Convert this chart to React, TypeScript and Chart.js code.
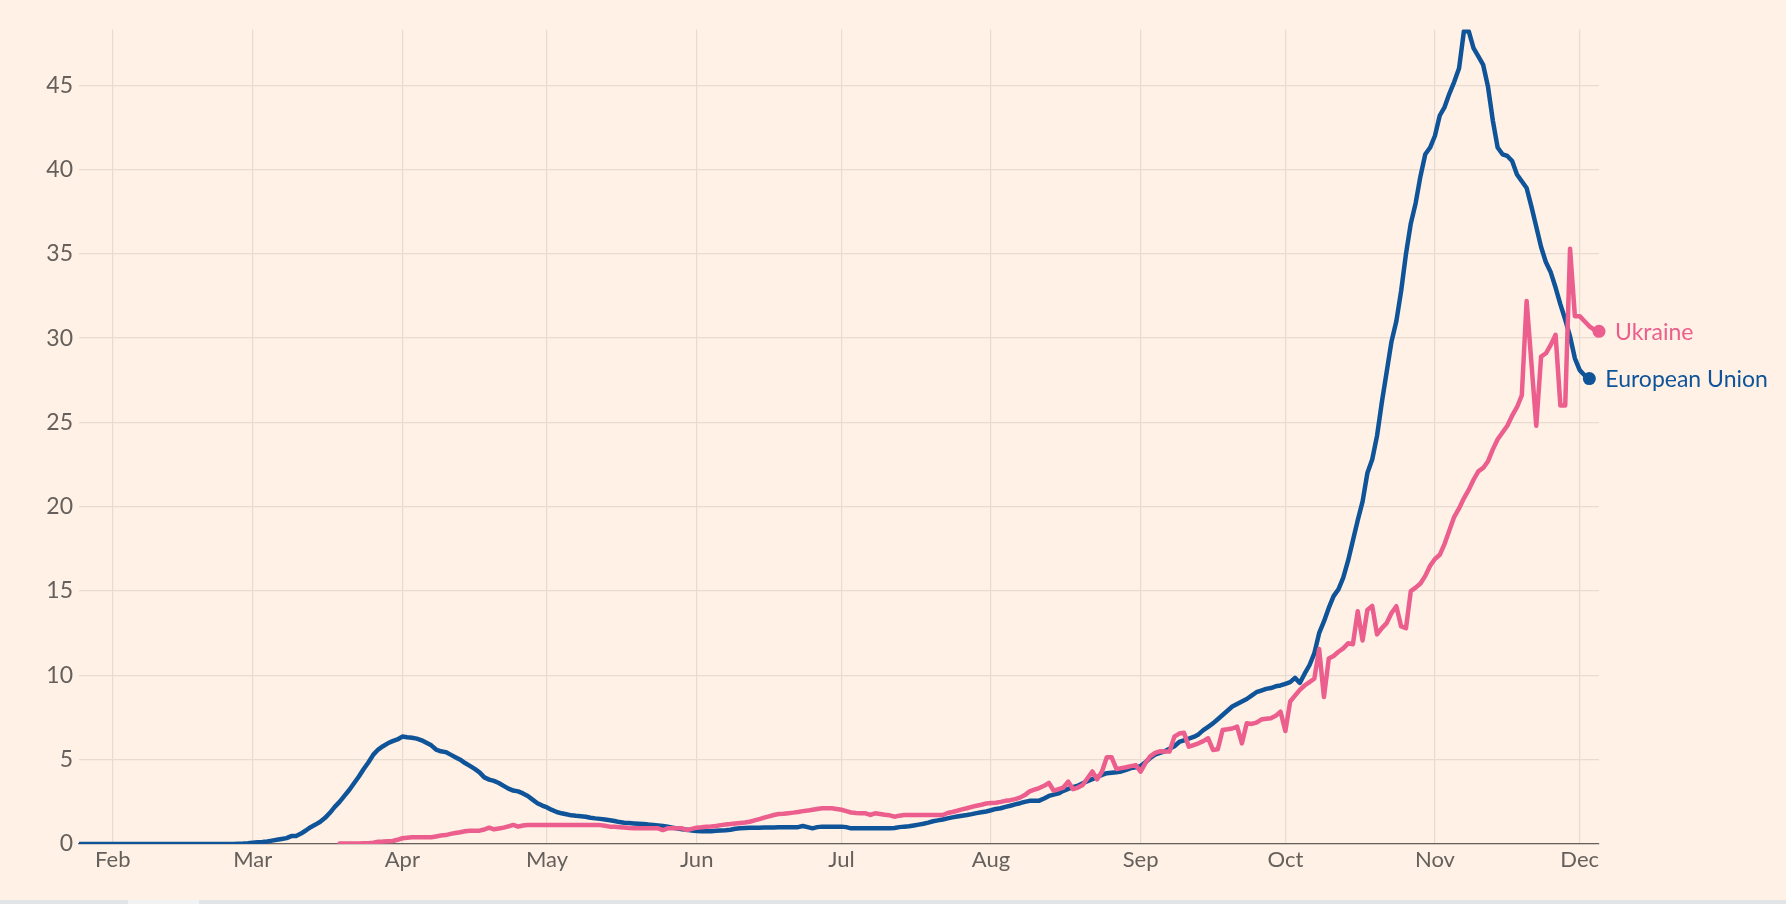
import React, { useEffect, useRef } from "react";
import { Chart, registerables } from "chart.js";

Chart.register(...registerables);

// x values are day numbers counted from 1 February 2020 (Feb 1 = 0)
const monthLabels = ["Feb", "Mar", "Apr", "May", "Jun", "Jul", "Aug", "Sep", "Oct", "Nov", "Dec"];
const monthStartDays = [0, 29, 60, 90, 121, 151, 182, 213, 243, 274, 304];
const yTickValues = [0, 5, 10, 15, 20, 25, 30, 35, 40, 45];

const euLabel = "European Union";
const euStartDay = -7;
const euValues = [
  // Jan 25-31
  0, 0, 0, 0, 0, 0, 0,
  // Feb
  0, 0, 0, 0, 0, 0, 0, 0, 0, 0, 0, 0, 0, 0, 0, 0, 0, 0, 0, 0, 0, 0, 0, 0, 0, 0, 0.02, 0.03, 0.05,
  // Mar
  0.08, 0.1, 0.12, 0.15, 0.2, 0.25, 0.3, 0.35, 0.47, 0.48, 0.62, 0.8, 1.0, 1.15, 1.32, 1.55, 1.85, 2.2, 2.5, 2.85,
  3.2, 3.6, 4.0, 4.45, 4.85, 5.3, 5.6, 5.8, 5.97, 6.1, 6.2,
  // Apr
  6.37, 6.33, 6.3, 6.25, 6.15, 6.0, 5.85, 5.6, 5.5, 5.45, 5.3, 5.15, 5.0, 4.8, 4.63, 4.45, 4.25, 3.95, 3.82, 3.74,
  3.62, 3.45, 3.28, 3.17, 3.12, 3.0, 2.85, 2.63, 2.42, 2.28,
  // May
  2.17, 2.02, 1.9, 1.82, 1.76, 1.7, 1.67, 1.65, 1.62, 1.56, 1.52, 1.49, 1.45, 1.41, 1.36, 1.3, 1.26, 1.24, 1.22, 1.2,
  1.18, 1.15, 1.13, 1.1, 1.07, 1.02, 0.97, 0.92, 0.88, 0.84, 0.8,
  // Jun
  0.77, 0.76, 0.75, 0.76, 0.78, 0.8, 0.82, 0.85, 0.9, 0.93, 0.95, 0.96, 0.97, 0.97, 0.98, 0.98, 0.98, 0.99, 0.99, 0.99,
  0.99, 1.0, 1.07, 1.0, 0.93, 1.0, 1.03, 1.03, 1.03, 1.03,
  // Jul
  1.03, 1.0, 0.93, 0.93, 0.93, 0.93, 0.93, 0.93, 0.93, 0.93, 0.93, 0.95, 1.0, 1.03, 1.05, 1.1, 1.15, 1.2, 1.27, 1.35,
  1.4, 1.45, 1.52, 1.58, 1.63, 1.68, 1.72, 1.77, 1.83, 1.88, 1.93,
  // Aug
  2.0, 2.08, 2.12, 2.2, 2.27, 2.35, 2.42, 2.5, 2.56, 2.57, 2.57, 2.7, 2.85, 2.93, 3.0, 3.15, 3.27, 3.37, 3.46, 3.6,
  3.73, 3.85, 3.97, 4.1, 4.2, 4.23, 4.26, 4.3, 4.4, 4.5, 4.55,
  // Sep
  4.62, 4.85, 5.1, 5.3, 5.4, 5.5, 5.65, 5.8, 6.05, 6.15, 6.25, 6.35, 6.5, 6.75, 6.95, 7.15, 7.4, 7.65, 7.9, 8.15,
  8.3, 8.45, 8.6, 8.8, 9.0, 9.1, 9.2, 9.25, 9.35, 9.4,
  // Oct
  9.5, 9.6, 9.85, 9.55, 10.1, 10.6, 11.3, 12.5, 13.2, 14.0, 14.7, 15.1, 15.8, 16.8, 18.0, 19.2, 20.3, 22.0, 22.8, 24.2,
  26.2, 28.0, 29.8, 31.0, 32.8, 35.0, 36.8, 38.0, 39.6, 40.9, 41.3,
  // Nov
  42.0, 43.2, 43.7, 44.5, 45.2, 46.0, 48.2, 48.2, 47.2, 46.7, 46.2, 44.9, 42.9, 41.3, 40.9, 40.8, 40.5, 39.7, 39.3, 38.9,
  37.8, 36.6, 35.4, 34.5, 33.9, 33.0, 32.0, 31.1, 30.1, 28.8,
  // Dec
  28.1, 27.8, 27.6,
];

const ukLabel = "Ukraine";
const ukStartDay = 47;
const ukValues = [
  // Mar 19-31
  0.03, 0.03, 0.03, 0.03, 0.03, 0.04, 0.04, 0.08, 0.14, 0.15, 0.17, 0.18, 0.25,
  // Apr
  0.34, 0.37, 0.4, 0.4, 0.4, 0.4, 0.4, 0.45, 0.5, 0.53, 0.6, 0.65, 0.7, 0.76, 0.79, 0.79, 0.79, 0.86, 0.97, 0.87,
  0.92, 0.97, 1.05, 1.13, 1.03, 1.1, 1.13, 1.13, 1.13, 1.13,
  // May
  1.13, 1.13, 1.13, 1.13, 1.13, 1.13, 1.13, 1.13, 1.13, 1.13, 1.13, 1.12, 1.08, 1.03, 1.02, 1.0, 0.98, 0.95, 0.93, 0.93,
  0.93, 0.93, 0.93, 0.93, 0.83, 0.93, 0.93, 0.93, 0.93, 0.83, 0.9,
  // Jun
  0.97, 0.99, 1.02, 1.04, 1.07, 1.12, 1.15, 1.18, 1.22, 1.25, 1.28, 1.32, 1.4, 1.48, 1.56, 1.64, 1.72, 1.78, 1.8, 1.83,
  1.86, 1.9, 1.95, 1.98, 2.03, 2.08, 2.12, 2.12, 2.12, 2.08,
  // Jul
  2.03, 1.95, 1.87, 1.84, 1.82, 1.82, 1.72, 1.82, 1.78, 1.73, 1.7, 1.62, 1.68, 1.72, 1.72, 1.72, 1.72, 1.72, 1.72, 1.72,
  1.72, 1.72, 1.84, 1.9, 1.97, 2.05, 2.12, 2.2, 2.27, 2.33, 2.4,
  // Aug
  2.43, 2.45, 2.5, 2.56, 2.6, 2.66, 2.75, 2.9, 3.12, 3.22, 3.32, 3.45, 3.62, 3.16, 3.25, 3.35, 3.7, 3.25, 3.35, 3.5,
  3.9, 4.3, 3.83, 4.3, 5.14, 5.14, 4.45, 4.5, 4.55, 4.62, 4.68,
  // Sep
  4.29, 4.8, 5.2, 5.4, 5.5, 5.48, 5.48, 6.37, 6.55, 6.6, 5.77, 5.87, 5.97, 6.1, 6.27, 5.58, 5.62, 6.76, 6.8, 6.85,
  6.96, 5.97, 7.16, 7.12, 7.2, 7.38, 7.43, 7.46, 7.6, 7.85,
  // Oct
  6.7, 8.45, 8.8, 9.14, 9.4, 9.6, 9.8, 11.56, 8.72, 11.0, 11.15, 11.4, 11.6, 11.9, 11.85, 13.8, 12.07, 13.88, 14.12, 12.43,
  12.8, 13.1, 13.7, 14.1, 12.9, 12.8, 15.0, 15.2, 15.45, 15.9, 16.5,
  // Nov
  16.9, 17.15, 17.8, 18.6, 19.4, 19.9, 20.5, 21.0, 21.6, 22.1, 22.3, 22.7, 23.4, 24.0, 24.4, 24.8, 25.4, 25.9, 26.6, 32.2,
  28.5, 24.8, 28.9, 29.1, 29.6, 30.2, 26.0, 26.0, 35.3, 31.3,
  // Dec
  31.3, 31.0, 30.7, 30.5, 30.4,
];

const BG = "#fff1e5";
const GRID = "#e8dcd1";
const TEXT = "#66605c";
const EU_COLOR = "#0f5499";
const UK_COLOR = "#eb5e8d";
const FONT = "Lato";

const toPoints = (start: number, vals: number[]) => vals.map((v, i) => ({ x: start + i, y: v }));

const endLabels = {
  id: "endLabels",
  afterDatasetsDraw(chart: any) {
    const ctx = chart.ctx;
    chart.data.datasets.forEach((ds: any, i: number) => {
      const meta = chart.getDatasetMeta(i);
      const last = meta.data[meta.data.length - 1];
      if (!last) return;
      ctx.save();
      ctx.fillStyle = ds.borderColor;
      ctx.beginPath();
      ctx.arc(last.x, last.y, 6.5, 0, Math.PI * 2);
      ctx.fill();
      ctx.font = `23px ${FONT}`;
      ctx.textAlign = "left";
      ctx.textBaseline = "middle";
      ctx.fillText(ds.label, last.x + 16, last.y + 1);
      ctx.restore();
    });
  },
};

const bgPlugin = {
  id: "bg",
  beforeDraw(chart: any) {
    const ctx = chart.ctx;
    ctx.save();
    ctx.fillStyle = BG;
    ctx.fillRect(0, 0, chart.width, chart.height);
    ctx.restore();
  },
};

export default function App() {
  const ref = useRef<HTMLCanvasElement | null>(null);

  useEffect(() => {
    if (!ref.current) return;
    const chart = new Chart(ref.current, {
      type: "line",
      data: {
        datasets: [
          {
            label: ukLabel,
            data: toPoints(ukStartDay, ukValues),
            borderColor: UK_COLOR,
            backgroundColor: UK_COLOR,
            borderWidth: 4.5,
            pointRadius: 0,
            tension: 0,
            borderJoinStyle: "round",
            borderCapStyle: "round",
            order: 0,
          } as any,
          {
            label: euLabel,
            data: toPoints(euStartDay, euValues),
            borderColor: EU_COLOR,
            backgroundColor: EU_COLOR,
            borderWidth: 4.5,
            pointRadius: 0,
            tension: 0,
            borderJoinStyle: "round",
            borderCapStyle: "round",
            order: 1,
          } as any,
        ],
      },
      options: {
        animation: false,
        responsive: false,
        maintainAspectRatio: false,
        devicePixelRatio: 1,
        layout: { padding: { top: 29.5, right: 187, bottom: 0, left: 0 } },
        plugins: { legend: { display: false }, tooltip: { enabled: false } },
        scales: {
          x: {
            type: "linear",
            min: -7,
            max: 308,
            afterBuildTicks: (axis: any) => {
              axis.ticks = monthStartDays.map((v) => ({ value: v }));
            },
            afterFit: (scale: any) => {
              scale.height = 60;
            },
            grid: { color: GRID, lineWidth: 1.2, drawTicks: false },
            border: { display: true, color: TEXT, width: 1.2 },
            ticks: {
              autoSkip: false,
              maxRotation: 0,
              padding: 3,
              color: TEXT,
              font: { family: FONT, size: 22 },
              callback: (value: any) => {
                const idx = monthStartDays.indexOf(Number(value));
                return idx >= 0 ? monthLabels[idx] : "";
              },
            },
          },
          y: {
            type: "linear",
            min: 0,
            max: 48.3,
            afterBuildTicks: (axis: any) => {
              axis.ticks = yTickValues.map((v) => ({ value: v }));
            },
            afterFit: (scale: any) => {
              scale.width = 79;
            },
            grid: { color: GRID, lineWidth: 1.2, drawTicks: false },
            border: { display: false },
            ticks: {
              padding: 6,
              color: TEXT,
              font: { family: FONT, size: 23 },
              callback: (value: any) => String(value),
            },
          },
        },
      },
      plugins: [bgPlugin, endLabels],
    });
    return () => chart.destroy();
  }, []);

  return (
    <div
      style={{
        position: "fixed",
        left: 0,
        top: 0,
        width: 1786,
        height: 904,
        background: BG,
        overflow: "hidden",
      }}
    >
      <canvas ref={ref} width={1786} height={904} style={{ display: "block", width: 1786, height: 904 }} />
      <div style={{ position: "absolute", left: 0, bottom: 0, width: 1786, height: 4, background: "#e2e5e8" }} />
      <div style={{ position: "absolute", left: 128, bottom: 0, width: 71, height: 4, background: "#f1f2f3" }} />
    </div>
  );
}
